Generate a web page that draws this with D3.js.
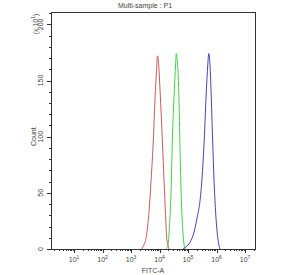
<!DOCTYPE html>
<html>
<head>
<meta charset="utf-8">
<script src="https://cdn.jsdelivr.net/npm/d3@7"></script>
<style>
  body { margin: 0; background: #fff; }
  svg { display: block; font-family: "Liberation Sans", Arial, sans-serif; }
  .axis path, .axis line { stroke: #333; stroke-width: 1; shape-rendering: crispEdges; }
  .lbl { fill: #444; font-size: 7px; }
  .trace { fill: none; stroke-width: 1; }
</style>
</head>
<body>
<div id="chart"></div>
<script>
// log10(FITC-A) positions and counts (x10) for each sample
var redLog = [3.375, 3.439, 3.526, 3.632, 3.702, 3.782, 3.853, 3.895, 3.923, 3.965, 4.018, 4.098, 4.158, 4.211, 4.246, 4.298, 4.333];
var redCount = [0, 3, 10, 34, 61, 97, 141, 159, 172, 166, 141, 97, 61, 30, 12, 3, 0];

var greenLog = [4.228, 4.298, 4.351, 4.404, 4.449, 4.519, 4.561, 4.589, 4.625, 4.674, 4.712, 4.754, 4.807, 4.860, 4.895];
var greenCount = [0, 4, 21, 52, 97, 141, 163, 174, 166, 141, 97, 52, 21, 4, 0];

var blueLog = [4.825, 4.930, 5.070, 5.221, 5.333, 5.421, 5.509, 5.568, 5.642, 5.691, 5.726, 5.765, 5.807, 5.863, 5.912, 5.965, 6.035, 6.088, 6.123];
var blueCount = [0, 2, 6, 16, 30, 43, 70, 97, 141, 163, 174, 166, 141, 97, 61, 34, 12, 3, 0];

var decades = [1, 2, 3, 4, 5, 6, 7];
var yTicks = [0, 50, 100, 150, 200];

var width = 288, height = 275;
var plotL = 51, plotR = 255, plotT = 12, plotB = 249;

var svg = d3.select('#chart').append('svg')
  .attr('width', width)
  .attr('height', height);

var x = d3.scaleLog()
  .domain([Math.pow(10, 0.19), Math.pow(10, 7.35)])
  .range([plotL, plotR]);

var y = d3.scaleLinear()
  .domain([0, 211])
  .range([plotB, plotT]);

// frame
svg.append('rect')
  .attr('x', plotL).attr('y', plotT)
  .attr('width', plotR - plotL).attr('height', plotB - plotT)
  .attr('fill', 'none').attr('stroke', '#333')
  .attr('shape-rendering', 'crispEdges');

// x axis: majors and minors
var minors = [];
for (var e = 0; e <= 7; e++) {
  for (var m = 2; m <= 9; m++) {
    var v = m * Math.pow(10, e);
    if (v >= x.domain()[0] && v <= x.domain()[1]) minors.push(v);
  }
}

svg.append('g').attr('class', 'axis')
  .attr('transform', 'translate(0,' + plotB + ')')
  .call(d3.axisBottom(x).tickValues(minors).tickSize(2).tickFormat(''))
  .select('.domain').remove();

svg.append('g').attr('class', 'axis')
  .attr('transform', 'translate(0,' + plotB + ')')
  .call(d3.axisBottom(x).tickValues(decades.map(function(d) { return Math.pow(10, d); }))
    .tickSize(4).tickFormat(''))
  .select('.domain').remove();

var xl = svg.append('g').selectAll('text').data(decades)
  .enter().append('text')
  .attr('class', 'lbl')
  .attr('x', function(d) { return x(Math.pow(10, d)); })
  .attr('y', 262)
  .attr('text-anchor', 'middle');
xl.append('tspan').text('10');
xl.append('tspan').attr('dy', -3).attr('font-size', '5px').text(function(d) { return d; });

// y axis
var yMinor = d3.range(0, 211, 10);
svg.append('g').attr('class', 'axis')
  .attr('transform', 'translate(' + plotL + ',0)')
  .call(d3.axisLeft(y).tickValues(yMinor).tickSize(2).tickFormat(''))
  .select('.domain').remove();

svg.append('g').attr('class', 'axis')
  .attr('transform', 'translate(' + plotL + ',0)')
  .call(d3.axisLeft(y).tickValues(yTicks).tickSize(4).tickFormat(''))
  .select('.domain').remove();

svg.append('g').selectAll('text').data(yTicks)
  .enter().append('text')
  .attr('class', 'lbl')
  .attr('text-anchor', 'middle')
  .attr('transform', function(d) { return 'translate(43,' + y(d) + ') rotate(-90)'; })
  .text(function(d) { return d; });

svg.append('text')
  .attr('class', 'lbl')
  .attr('text-anchor', 'middle')
  .attr('transform', 'translate(36,' + y(100) + ') rotate(-90)')
  .text('Count');

var mult = svg.append('text')
  .attr('class', 'lbl')
  .attr('text-anchor', 'middle')
  .attr('transform', 'translate(38,24) rotate(-90)');
mult.append('tspan').text('(x 10');
mult.append('tspan').attr('dy', -3).attr('font-size', '5px').text('1');
mult.append('tspan').attr('dy', 3).text(')');

// titles
svg.append('text')
  .attr('class', 'lbl')
  .attr('x', 145).attr('y', 8)
  .attr('text-anchor', 'middle')
  .text('Multi-sample : P1');

svg.append('text')
  .attr('class', 'lbl')
  .attr('x', 153).attr('y', 273)
  .attr('text-anchor', 'middle')
  .text('FITC-A');

// traces
var line = d3.line()
  .x(function(d) { return x(Math.pow(10, d[0])); })
  .y(function(d) { return y(d[1]); })
  .curve(d3.curveMonotoneX);

var series = [
  { xs: redLog, ys: redCount, color: '#cc5a5a' },
  { xs: greenLog, ys: greenCount, color: '#44d044' },
  { xs: blueLog, ys: blueCount, color: '#4444b4' }
];

svg.append('g').selectAll('path').data(series)
  .enter().append('path')
  .attr('class', 'trace')
  .attr('stroke', function(d) { return d.color; })
  .attr('d', function(d) { return line(d3.zip(d.xs, d.ys)); });
</script>
</body>
</html>
